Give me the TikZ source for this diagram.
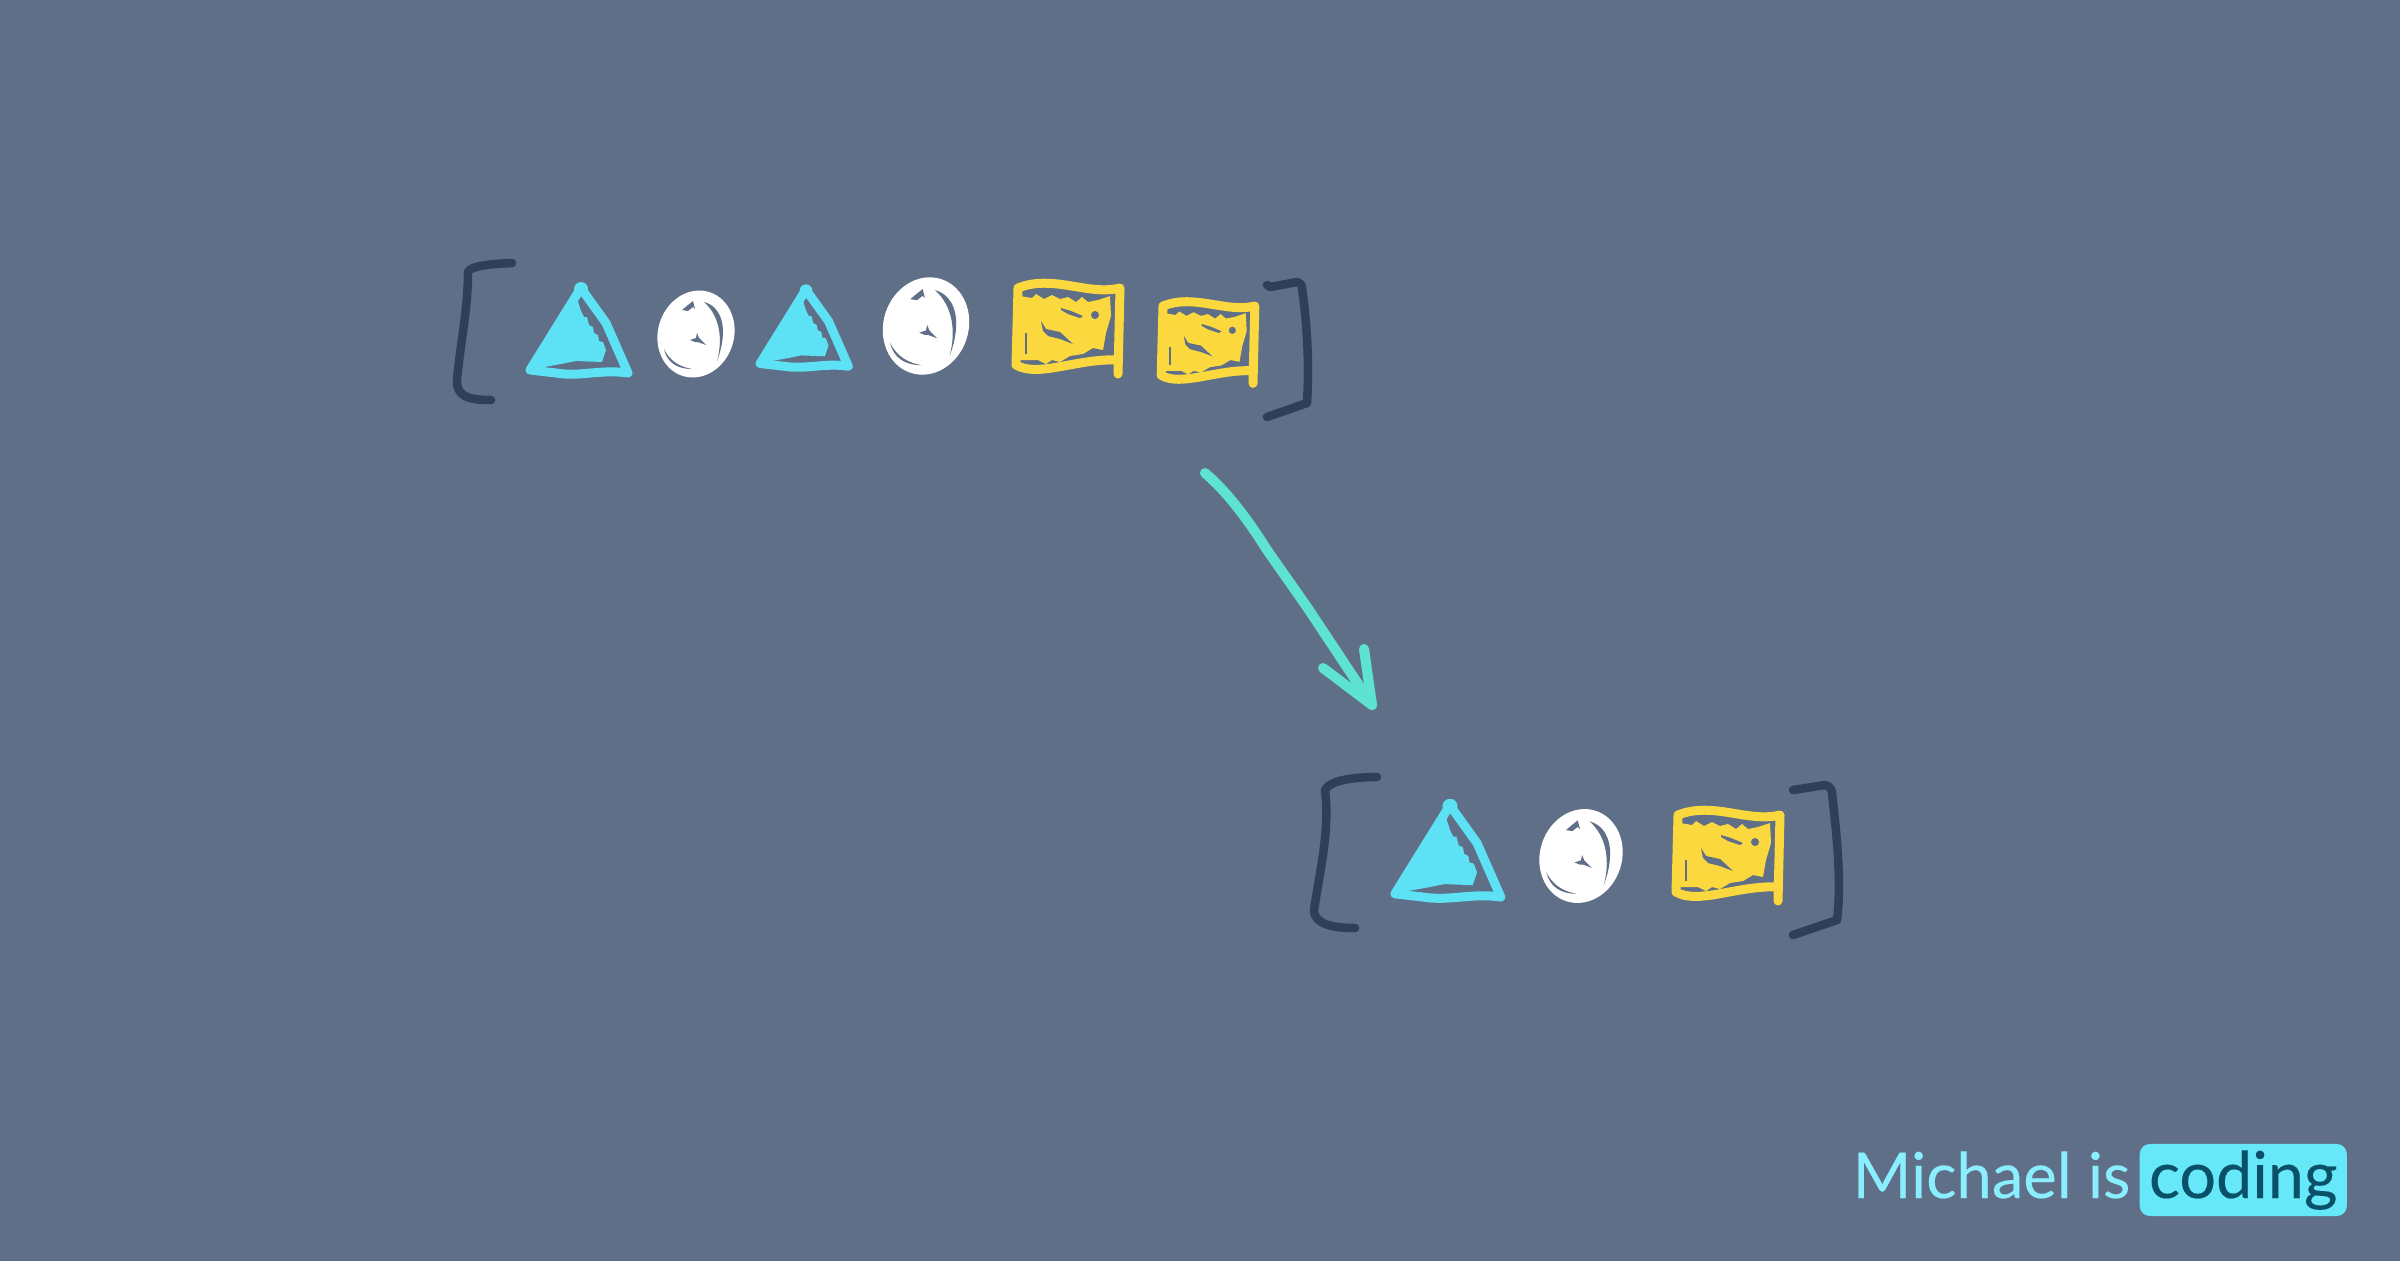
\documentclass[tikz,border=0pt]{standalone}
\usepackage{fontspec}
\newfontfamily\brandfont{Lato}[FakeBold=0.25]
\definecolor{slatebg}{HTML}{5F6F87}
\definecolor{bracketcol}{HTML}{2F3F58}
\definecolor{trianglecol}{HTML}{5CE1F5}
\definecolor{flagcol}{HTML}{FAD83E}
\definecolor{arrowcol}{HTML}{5FE3D1}
\definecolor{brandcol}{HTML}{8AEEFF}
\definecolor{badgecol}{HTML}{66E8F8}
\definecolor{badgetext}{HTML}{0B5069}
\tikzset{
  bracketline/.style={draw=bracketcol, line width=0.085cm, line cap=round, line join=round},
  arrowline/.style={draw=arrowcol, line width=0.1cm, line cap=round, line join=round},
  sketchline/.style={line width=0.09cm, line cap=round, line join=round},
  % triangle, origin at the apex
  trianglesketch/.pic={
    \fill[trianglecol] (-5,10) -- (0,26) -- (3,32) -- (6,32) -- (8,40) -- (12,42) -- (13,48) -- (17,50)
      -- (18,56) -- (22,57) -- (25,65) -- (21,77) -- (-5,76) -- (-20,79) -- (-48,84) -- cycle;
    \draw[draw=trianglecol, sketchline] (-51,85) -- (-2,6) -- (2,6) -- (25,38) -- (47,88)
      .. controls (20,84) and (0,92) .. (-25,88) -- (-51,85);
    \fill[trianglecol] (0,4) circle (7);
  },
  % circle, origin at the centre
  circlesketch/.pic={
    \fill[white, rotate=-18] (0,0) ellipse (38 and 44);
    \fill[slatebg] (8,-32) .. controls (24,-28) and (34,-8) .. (21,27) .. controls (27,5) and (24,-18) .. (8,-32) -- cycle;
    \fill[slatebg] (-32,15) .. controls (-29,29) and (-18,35) .. (-4,35) .. controls (-15,33) and (-26,28) .. (-32,15) -- cycle;
    \fill[slatebg] (-14,-24) -- (-8,-29) -- (-3,-33) -- (-1,-25) -- (-3,-27) -- (-8,-23) -- cycle;
    \fill[slatebg] (-6,6) -- (0,4) -- (1,-1) -- (3,4) -- (10,11) -- (2,8) -- (-1,8) -- cycle;
  },
  % flag, origin at the top left corner
  flagsketch/.pic={
    \fill[flagcol] (2,8) -- (14,10) -- (18,6) -- (26,11) -- (34,7) -- (42,11) -- (50,9) -- (58,14) -- (64,9) -- (70,14)
      -- (80,12) -- (92,8) -- (93,28) -- (88,45) -- (85,62) -- (75,60) -- (65,66) -- (52,68) -- (42,74) -- (34,72)
      -- (28,76) -- (20,72) -- (2,72) -- cycle;
    \draw[draw=flagcol, sketchline] (100,86) -- (102,0) .. controls (70,8) and (35,-14) .. (0,0) -- (-2,77)
      .. controls (20,90) and (60,70) .. (100,72);
    \draw[draw=slatebg, line width=0.015cm] (8,45) -- (8,66);
    \fill[slatebg] (43,20) -- (53,23) -- (65,28) -- (62,30) -- (50,26) -- (43,22) -- cycle;
    \fill[slatebg] (77,27) circle (4);
    \fill[slatebg] (23,33) -- (28,41) -- (42,44) -- (55,56) -- (42,51) -- (30,48) -- (25,43) -- cycle;
  },
}
\begin{document}
\begin{tikzpicture}[x=0.01cm, y=-0.01cm]
  \useasboundingbox (0,0) rectangle (2400,1260);
  \fill[slatebg] (-10,-10) rectangle (2410,1270);

  % top row
  \draw[bracketline] (512,263) .. controls (490,264) and (470,266) .. (468,272)
    .. controls (468,310) and (460,345) .. (457,380) .. controls (456,397) and (470,400) .. (491,400);
  \pic at (581,285) {trianglesketch};
  \pic at (696,334) {circlesketch};
  \pic[scale=0.9] at (806,287) {trianglesketch};
  \pic[scale=1.12] at (926,326) {circlesketch};
  \pic at (1018,288) {flagsketch};
  \pic[scale=0.9] at (1163,306) {flagsketch};
  \draw[bracketline] (1267,285) -- (1270,287) -- (1297,282) .. controls (1302,284) and (1302,286) .. (1302,288)
    .. controls (1305,310) and (1310,350) .. (1307,403) -- (1267,417);

  % arrow
  \coordinate (arrowstart) at (1205,473);
  \coordinate (arrowtip) at (1372,705);
  \draw[arrowline] (arrowstart) .. controls (1225,490) and (1245,515) .. (1267,550)
    -- (1307,607) -- (arrowtip);
  \draw[arrowline] (1323,668) -- (arrowtip) -- (1364,649);

  % bottom row
  \draw[bracketline] (1377,777) .. controls (1355,777) and (1330,780) .. (1325,790)
    .. controls (1330,830) and (1320,870) .. (1314,910) .. controls (1314,925) and (1335,928) .. (1355,928);
  \pic[scale=1.08] at (1450,802) {trianglesketch};
  \pic[scale=1.08] at (1581,856) {circlesketch};
  \pic at (1678,815) {flagsketch};
  \draw[bracketline] (1793,790) -- (1825,785) .. controls (1830,786) and (1832,790) .. (1832,793)
    .. controls (1836,830) and (1842,880) .. (1837,920) -- (1793,935);

  % brand
  \node[anchor=base west, inner sep=0pt, text=brandcol, font=\brandfont\fontsize{18}{20}\selectfont] (brand) at (1852,1198) {Michael is};
  \node[anchor=base west, fill=badgecol, rounded corners=0.1cm, minimum width=2.07cm, text height=0.54cm, text depth=0.18cm, inner sep=0pt, text=badgetext, font=\brandfont\fontsize{18.4}{20}\selectfont] (badge) at (2139,1198) {coding};
\end{tikzpicture}
\end{document}
